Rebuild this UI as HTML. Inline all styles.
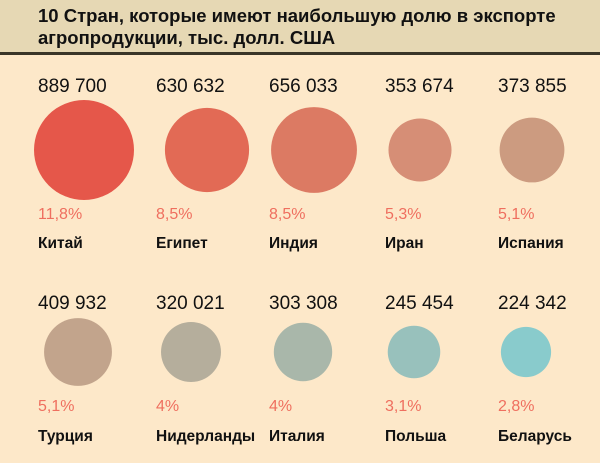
<!DOCTYPE html>
<html><head><meta charset="utf-8"><style>
body{margin:0;width:600px;height:463px;background:#fde8c9;font-family:"Liberation Sans",sans-serif;overflow:hidden;position:relative}
#title{position:absolute;left:0;top:0;width:600px;height:52px;background:#e6d8b4;border-bottom:3px solid #3a3528}
#title div{position:absolute;left:38px;top:5px;font-size:18.5px;font-weight:bold;line-height:22px;color:#111}
svg{position:absolute;left:0;top:0}
</style></head><body>
<div id="title"><div>10 Стран, которые имеют наибольшую долю в экспорте<br>агропродукции, тыс. долл. США</div></div>
<svg id="c" width="600" height="463"></svg>
<script>
const countries=["Китай","Египет","Индия","Иран","Испания","Турция","Нидерланды","Италия","Польша","Беларусь"];
const values=[889700,630632,656033,353674,373855,409932,320021,303308,245454,224342];
const valueLabels=["889 700","630 632","656 033","353 674","373 855","409 932","320 021","303 308","245 454","224 342"];
const shares=["11,8%","8,5%","8,5%","5,3%","5,1%","5,1%","4%","4%","3,1%","2,8%"];
const colors=["#e5574a","#e26a55","#dc7a63","#d68e76","#cc9b80","#c2a48c","#b5ae9c","#a9b7aa","#98c1bc","#89cbcc"];
const svg=document.getElementById('c');
const NS="http://www.w3.org/2000/svg";
const colX=[38,156,269,385,498];
const rowCx=[[84,207,314,420,532],[78,191,303,414,526]];
const rScale=v=>0.053*Math.sqrt(v);
function t(x,y,s,size,fill,weight,name){const e=document.createElementNS(NS,'text');e.setAttribute('x',x);e.setAttribute('y',y);e.setAttribute('font-size',size);e.setAttribute('fill',fill);if(weight)e.setAttribute('font-weight',weight);e.textContent=s;


svg.appendChild(e);}
countries.forEach((c,i)=>{
  const row=Math.floor(i/5),col=i%5,x=colX[col];
  const yN=row?309:92, yC=row?352:150, yS=row?411:219, yL=row?441:248;
  t(x,yN,valueLabels[i],19,'#111',null,'value-label');
  const r=rScale(values[i]);
  const ci=document.createElementNS(NS,'circle');
  ci.setAttribute('cx',rowCx[row][col]);ci.setAttribute('cy',yC);ci.setAttribute('r',r);ci.setAttribute('fill',colors[i]);
  
  
  svg.appendChild(ci);
  t(x,yS,shares[i],16,'#ef6f5f',null,'share-label');
  t(x,yL,c,15.5,'#111','bold','country-label');
});
</script>
</body></html>
